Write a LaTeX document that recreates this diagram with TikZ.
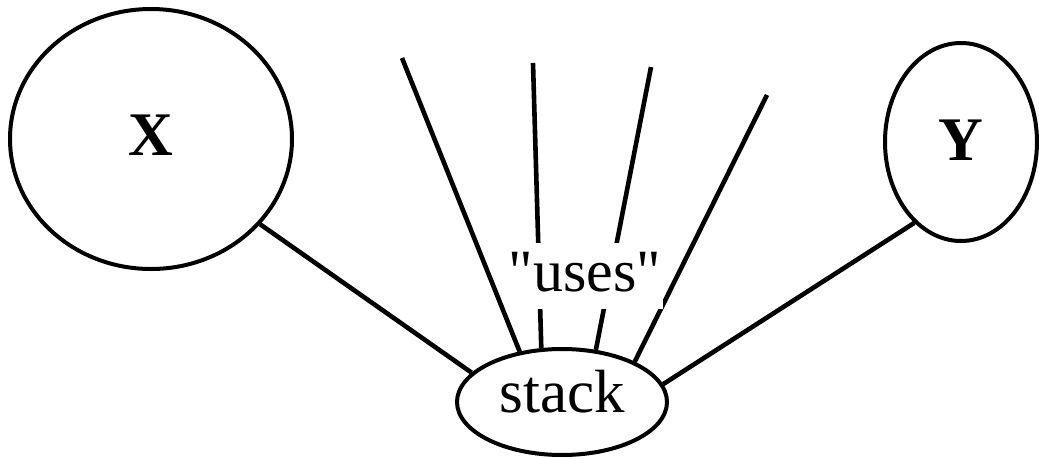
\documentclass[tikz,border=0pt]{standalone}
\usepackage{fontspec}
\setmainfont{Liberation Serif}[Ligatures=TeXOff]
\usetikzlibrary{shapes.geometric}
\begin{document}
\begin{tikzpicture}[x=1pt,y=-1pt,
  ring/.style={ellipse, draw, line width=4pt, inner sep=0pt},
  link/.style={line width=4.6pt},
  bigtext/.style={font=\fontsize{62}{70}\selectfont\bfseries}]
\useasboundingbox (0,0) rectangle (1039,458);

% modules
\node[ring, bigtext, minimum width=282pt, minimum height=260pt,
      text height=42pt, text depth=10pt] (X) at (151,139) {X};
\node[ring, bigtext, minimum width=152pt, minimum height=198pt,
      text height=43pt, text depth=7pt] (Y) at (961,142) {Y};
\node[ring, font=\fontsize{61}{66}\selectfont, minimum width=210pt, minimum height=106pt,
      text height=40pt, text depth=20pt] (stack) at (562,402) {stack};

% free ends of the fan of users
\coordinate (f1) at (402,58);
\coordinate (f2) at (533,63);
\coordinate (f3) at (651,67);
\coordinate (f4) at (767,95);

% connectors
\draw[link] (X.-38) -- (stack.162);
\draw[link] (Y.240) -- (stack.10);
\draw[link] (f1) -- (stack.130);
\draw[link] (f2) -- (stack.111);
\draw[link] (f3) -- (stack.57);
\draw[link] (f4) -- (stack.29);

% label breaking the fan lines
\node[fill=white, anchor=base, font=\fontsize{60}{68}\selectfont,
      inner xsep=2pt, inner ysep=6pt, text height=42pt, text depth=12pt]
      (uses) at (585,291) {"uses"};
\end{tikzpicture}
\end{document}
